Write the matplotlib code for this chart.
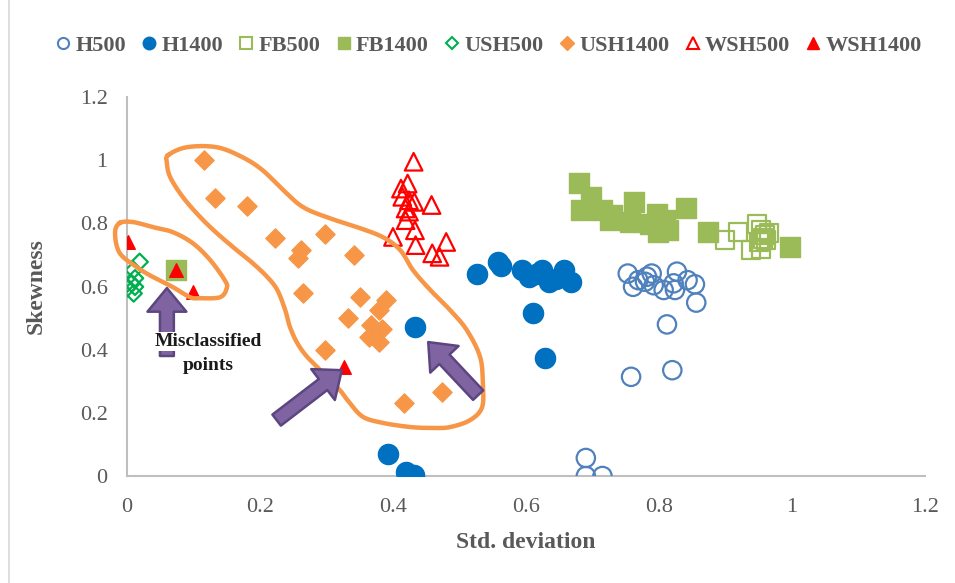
import numpy as np
import matplotlib
matplotlib.use("Agg")
import matplotlib.pyplot as plt
from matplotlib.lines import Line2D
from matplotlib.patches import FancyArrowPatch

plt.rcParams['font.family'] = ['Liberation Serif', 'DejaVu Serif']

# ---- data ----
h500_x = [0.753, 0.761, 0.769, 0.782, 0.789, 0.779, 0.792, 0.807, 0.827, 0.822,
          0.824, 0.843, 0.854, 0.856, 0.812, 0.758, 0.820, 0.690, 0.690, 0.715]
h500_y = [0.641, 0.599, 0.620, 0.631, 0.641, 0.615, 0.604, 0.589, 0.647, 0.610,
          0.589, 0.620, 0.607, 0.549, 0.480, 0.314, 0.335, 0.057, 0.000, 0.000]

h1400_x = [0.527, 0.558, 0.562, 0.594, 0.604, 0.615, 0.624, 0.634, 0.645, 0.657,
           0.667, 0.610, 0.628, 0.433, 0.393, 0.419, 0.432]
h1400_y = [0.638, 0.678, 0.665, 0.652, 0.631, 0.640, 0.652, 0.615, 0.625, 0.652,
           0.615, 0.515, 0.374, 0.471, 0.069, 0.014, 0.003]

fb500_x = [0.899, 0.919, 0.947, 0.953, 0.959, 0.939, 0.954, 0.961, 0.966, 0.950, 0.957]
fb500_y = [0.747, 0.773, 0.799, 0.778, 0.763, 0.715, 0.720, 0.747, 0.768, 0.740, 0.752]

fb1400_x = [0.679, 0.697, 0.682, 0.714, 0.730, 0.727, 0.762, 0.757, 0.797, 0.787,
            0.799, 0.814, 0.809, 0.841, 0.874, 0.997, 0.073]
fb1400_y = [0.928, 0.884, 0.842, 0.842, 0.826, 0.810, 0.868, 0.805, 0.831, 0.799,
            0.773, 0.778, 0.810, 0.847, 0.773, 0.724, 0.652]

ush500_x = [0.019, 0.010, 0.012, 0.007, 0.000, 0.012, 0.010]
ush500_y = [0.678, 0.652, 0.626, 0.610, 0.594, 0.599, 0.578]

ush1400_x = [0.116, 0.133, 0.181, 0.223, 0.297, 0.261, 0.257, 0.342, 0.264, 0.350,
             0.389, 0.332, 0.379, 0.367, 0.384, 0.364, 0.379, 0.297, 0.417, 0.473]
ush1400_y = [1.000, 0.879, 0.854, 0.752, 0.766, 0.715, 0.689, 0.699, 0.578, 0.567,
             0.557, 0.499, 0.525, 0.478, 0.467, 0.441, 0.425, 0.399, 0.230, 0.267]

wsh500_x = [0.431, 0.412, 0.422, 0.414, 0.424, 0.432, 0.458, 0.419, 0.424, 0.419,
            0.433, 0.400, 0.434, 0.480, 0.459, 0.470]
wsh500_y = [0.995, 0.910, 0.926, 0.884, 0.873, 0.868, 0.858, 0.847, 0.837, 0.810,
            0.778, 0.757, 0.731, 0.741, 0.705, 0.694]

wsh1400_x = [0.002, 0.073, 0.099, 0.327]
wsh1400_y = [0.741, 0.652, 0.582, 0.345]

# hand-drawn loops around the USH1400 cluster (annotation, data coords)
big_loop = [(0.062, 1.016), (0.090, 1.041), (0.135, 1.041), (0.174, 1.009), (0.204, 0.968),
            (0.235, 0.905), (0.265, 0.851), (0.305, 0.816), (0.346, 0.788), (0.385, 0.756),
            (0.411, 0.715), (0.430, 0.652), (0.456, 0.589), (0.486, 0.525), (0.511, 0.462),
            (0.531, 0.377), (0.535, 0.294), (0.534, 0.218), (0.516, 0.177), (0.486, 0.155),
            (0.460, 0.152), (0.426, 0.155), (0.385, 0.168), (0.355, 0.187), (0.335, 0.231),
            (0.320, 0.272), (0.295, 0.326), (0.271, 0.377), (0.256, 0.421), (0.245, 0.472),
            (0.238, 0.525), (0.226, 0.589), (0.211, 0.630), (0.189, 0.674), (0.165, 0.715),
            (0.135, 0.769), (0.110, 0.820), (0.084, 0.883), (0.065, 0.946), (0.060, 0.991)]
small_loop = [(-0.011, 0.801), (0.009, 0.804), (0.039, 0.788), (0.069, 0.772), (0.099, 0.737),
              (0.125, 0.684), (0.147, 0.620), (0.150, 0.595), (0.140, 0.566), (0.110, 0.563),
              (0.095, 0.566), (0.069, 0.598), (0.039, 0.630), (0.015, 0.661), (-0.011, 0.706),
              (-0.018, 0.769)]

# arrows: (tail, tip) in data coords
arrows = [((0.060, 0.380), (0.060, 0.595)),
          ((0.225, 0.177), (0.323, 0.335)),
          ((0.528, 0.256), (0.453, 0.424))]


def smooth_closed(pts, n=12):
    p = np.array(pts)
    out = []
    k = len(p)
    for i in range(k):
        p0, p1, p2, p3 = p[i - 1], p[i], p[(i + 1) % k], p[(i + 2) % k]
        for t in np.linspace(0, 1, n, endpoint=False):
            t2, t3 = t * t, t * t * t
            out.append(0.5 * ((2 * p1) + (-p0 + p2) * t + (2 * p0 - 5 * p1 + 4 * p2 - p3) * t2
                              + (-p0 + 3 * p1 - 3 * p2 + p3) * t3))
    out.append(out[0])
    return np.array(out)


fig = plt.figure(figsize=(9.55, 5.83), dpi=100)
ax = fig.add_axes([127 / 955, 1 - 476 / 583, (925 - 127) / 955, (476 - 97) / 583])

c_h5, c_h14 = '#4f81bd', '#0070c0'
c_fb = '#9bbb59'
c_us5, c_us14 = '#00b050', '#f79646'
c_ws = '#ff0000'

ax.scatter(h500_x, h500_y, s=175, marker='o', facecolors='none', edgecolors=c_h5, linewidths=1.6, zorder=3)
ax.scatter(h1400_x, h1400_y, s=210, marker='o', color=c_h14, zorder=3)
ax.scatter(fb500_x, fb500_y, s=170, marker='s', facecolors='none', edgecolors=c_fb, linewidths=1.6, zorder=3)
ax.scatter(fb1400_x, fb1400_y, s=200, marker='s', color=c_fb, zorder=3)
ax.scatter(ush500_x, ush500_y, s=70, marker='D', facecolors='none', edgecolors=c_us5, linewidths=1.6, zorder=3)
ax.scatter(ush1400_x, ush1400_y, s=95, marker='D', color=c_us14, zorder=3)
ax.scatter(wsh500_x, wsh500_y, s=160, marker='^', facecolors='none', edgecolors=c_ws, linewidths=1.6, zorder=3)
ax.scatter(wsh1400_x, wsh1400_y, s=95, marker='^', color=c_ws, zorder=4)

for loop in (big_loop, small_loop):
    sm = smooth_closed(loop)
    ax.plot(sm[:, 0], sm[:, 1], color=c_us14, lw=3.2, clip_on=False, zorder=5,
            solid_joinstyle='round')

for tail, tip in arrows:
    ax.add_patch(FancyArrowPatch(tail, tip, arrowstyle='simple,head_length=17,head_width=28,tail_width=10',
                                 facecolor='#8064a2', edgecolor='#5c4680', lw=1.8,
                                 shrinkA=0, shrinkB=0, zorder=6))

ax.text(0.122, 0.425, 'Misclassified', ha='center', va='center', fontsize=14,
        fontweight='bold', color='#1a1a1a', zorder=7,
        bbox=dict(facecolor='white', edgecolor='none', pad=0.5))
ax.text(0.122, 0.350, 'points', ha='center', va='center', fontsize=14,
        fontweight='bold', color='#1a1a1a', zorder=7)

ax.set_xlim(0, 1.2)
ax.set_ylim(0, 1.2)
ax.set_xticks(np.arange(0, 1.21, 0.2))
ax.set_yticks(np.arange(0, 1.21, 0.2))
ax.set_xticklabels(['0', '0.2', '0.4', '0.6', '0.8', '1', '1.2'])
ax.set_yticklabels(['0', '0.2', '0.4', '0.6', '0.8', '1', '1.2'])
ax.tick_params(length=0, labelsize=16, labelcolor='#595959')
ax.tick_params(axis='x', pad=16)
ax.tick_params(axis='y', pad=14)
for s in ('top', 'right'):
    ax.spines[s].set_visible(False)
for s in ('left', 'bottom'):
    ax.spines[s].set_color('#bfbfbf')
    ax.spines[s].set_linewidth(1.5)

ax.set_xlabel('Std. deviation', fontsize=17, fontweight='bold', color='#595959', labelpad=11)
ax.set_ylabel('Skewness', fontsize=17, fontweight='bold', color='#595959', labelpad=24)

handles = [
    Line2D([], [], ls='none', marker='o', ms=8, mfc='none', mec=c_h5, mew=1.5),
    Line2D([], [], ls='none', marker='o', ms=9, color=c_h14),
    Line2D([], [], ls='none', marker='s', ms=8, mfc='none', mec=c_fb, mew=1.5),
    Line2D([], [], ls='none', marker='s', ms=9, color=c_fb),
    Line2D([], [], ls='none', marker='D', ms=6.5, mfc='none', mec=c_us5, mew=1.5),
    Line2D([], [], ls='none', marker='D', ms=7, color=c_us14),
    Line2D([], [], ls='none', marker='^', ms=8, mfc='none', mec=c_ws, mew=1.5),
    Line2D([], [], ls='none', marker='^', ms=8, color=c_ws),
]
labels = ['H500', 'H1400', 'FB500', 'FB1400', 'USH500', 'USH1400', 'WSH500', 'WSH1400']
leg = fig.legend(handles, labels, loc='center', bbox_to_anchor=(0.511, 1 - 46 / 583), ncol=8,
                 frameon=False, handlelength=0.8, handletextpad=0.15, columnspacing=0.65,
                 prop={'size': 16, 'weight': 'bold'})
for t in leg.get_texts():
    t.set_color('#595959')

fig.add_artist(Line2D([9 / 955, 9 / 955], [0, 1], color='#d9d9d9', lw=1.2))

fig.savefig('out.png', dpi=100)
